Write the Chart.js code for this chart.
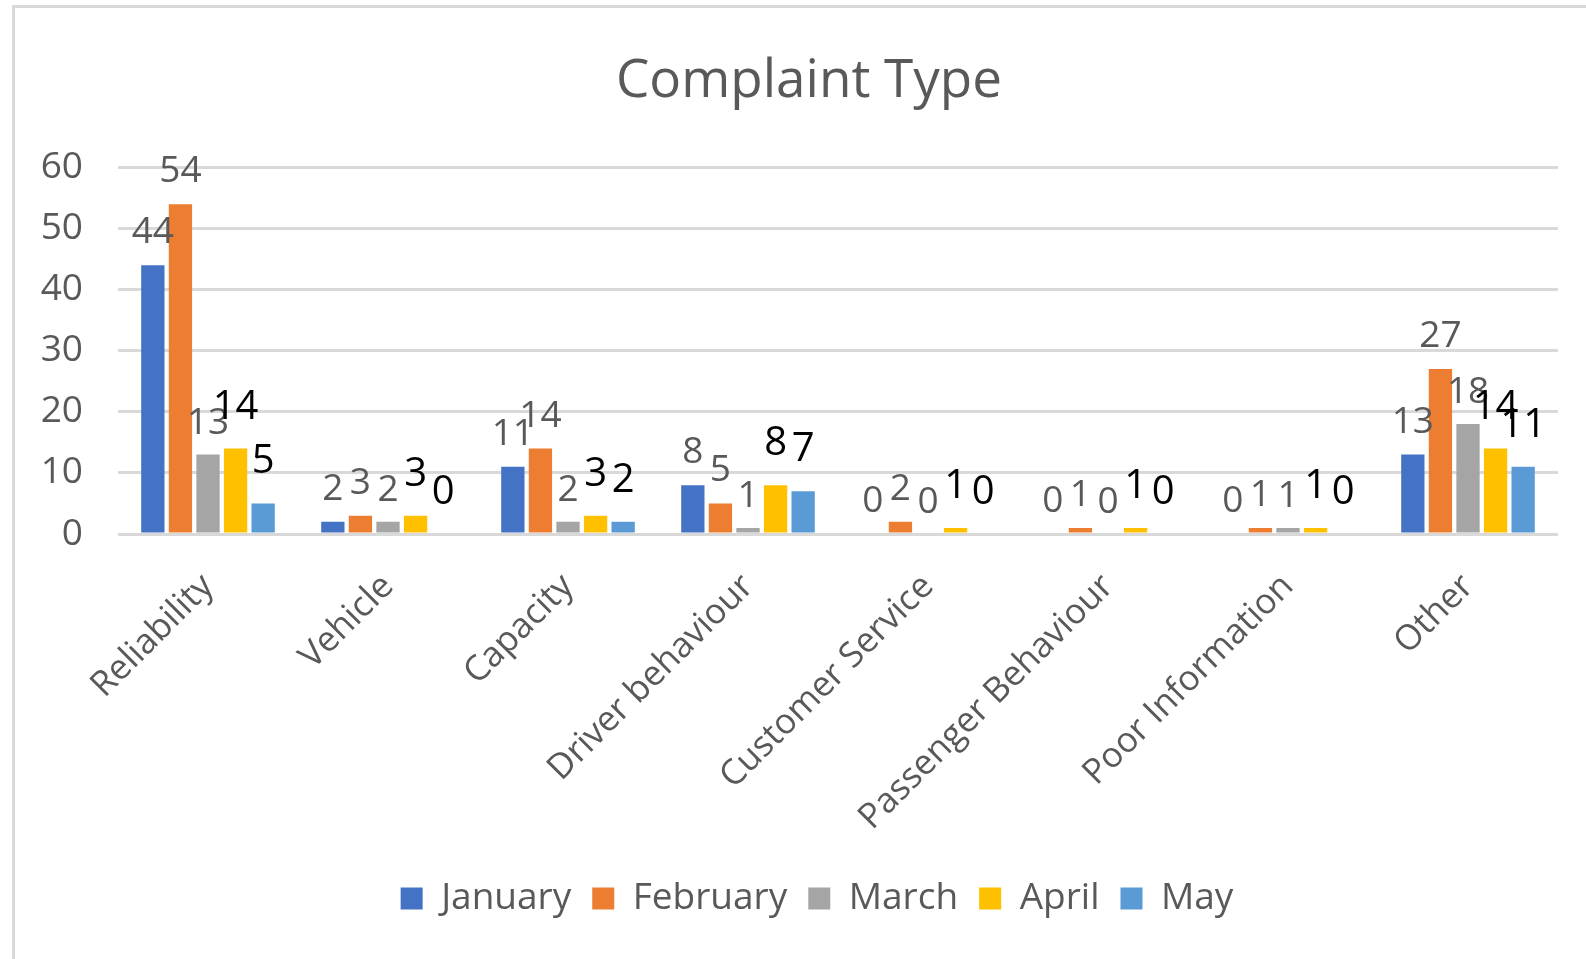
<!DOCTYPE html>
<html>
<head>
<meta charset="utf-8">
<title>Complaint Type</title>
<script src="https://cdn.jsdelivr.net/npm/chart.js@4.4.0/dist/chart.umd.min.js"></script>
<style>
  html, body { margin: 0; padding: 0; background: #fff; overflow: hidden; }
  #frame {
    position: absolute; left: 12px; top: 5px; width: 1620px; height: 1000px;
    border: 3px solid #d9d9d9; box-sizing: border-box;
  }
  #complaintChart { position: absolute; left: 0; top: 0; }
</style>
</head>
<body>
<div id="frame"></div>
<canvas id="complaintChart" width="1586" height="959"></canvas>
<script>
const categories = ['Reliability', 'Vehicle', 'Capacity', 'Driver behaviour', 'Customer Service', 'Passenger Behaviour', 'Poor Information', 'Other'];
const monthNames = ['January', 'February', 'March', 'April', 'May'];
const january = [44, 2, 11, 8, 0, 0, 0, 13];
const february = [54, 3, 14, 5, 2, 1, 1, 27];
const march = [13, 2, 2, 1, 0, 0, 1, 18];
const april = [14, 3, 3, 8, 1, 1, 1, 14];
const may = [5, 0, 2, 7, 0, 0, 0, 11];
const yTicks = [0, 10, 20, 30, 40, 50, 60];

const monthColors = ['#4472C4', '#ED7D31', '#A5A5A5', '#FFC000', '#5B9BD5'];
// value labels: first three months are small grey, last two bigger black
const labelColors = ['#595959', '#595959', '#595959', '#000000', '#000000'];
const labelSizes = [37, 37, 37, 40, 40];
const labelGaps = [22, 22, 21, 30, 30];

const FONT = '"Open Sans", "Noto Sans", sans-serif';
const GREY = '#595959';
const GRID = '#d9d9d9';

const valueLabels = {
  id: 'valueLabels',
  afterDatasetsDraw(chart) {
    const ctx = chart.ctx;
    ctx.save();
    ctx.textAlign = 'center';
    ctx.textBaseline = 'alphabetic';
    chart.data.datasets.forEach((ds, i) => {
      const meta = chart.getDatasetMeta(i);
      ctx.fillStyle = labelColors[i];
      ctx.font = `${labelSizes[i]}px ${FONT}`;
      meta.data.forEach((bar, j) => {
        ctx.fillText(String(ds.data[j]), bar.x, bar.y - labelGaps[i]);
      });
    });
    ctx.restore();
  }
};

// the original centres title and legend on a wider frame than the plot
const centreShift = {
  id: 'centreShift',
  afterLayout(chart) {
    if (chart.legend) { chart.legend.left += 38; chart.legend.right += 38; }
    if (chart.titleBlock) { chart.titleBlock.left += 60; }
  }
};

const seriesValues = [january, february, march, april, may];

new Chart(document.getElementById('complaintChart'), {
  type: 'bar',
  data: {
    labels: categories,
    datasets: monthNames.map((name, i) => ({
      label: name,
      data: seriesValues[i],
      backgroundColor: monthColors[i],
      borderWidth: 0,
      categoryPercentage: 0.766,
      barPercentage: 0.845
    }))
  },
  options: {
    responsive: false,
    devicePixelRatio: 1,
    animation: false,
    layout: { padding: { left: 0, right: 28, top: 0, bottom: 32 } },
    plugins: {
      title: {
        display: true,
        text: 'Complaint Type',
        color: GREY,
        font: { family: FONT, size: 53, weight: 'normal' },
        padding: { top: 50, bottom: 54 }
      },
      legend: {
        position: 'bottom',
        labels: {
          color: GREY,
          font: { family: FONT, size: 37 },
          boxWidth: 22,
          boxHeight: 22,
          padding: 21
        }
      },
      tooltip: { enabled: false }
    },
    scales: {
      x: {
        grid: { display: false },
        border: { display: false },
        ticks: {
          color: GREY,
          font: { family: FONT, size: 35 },
          minRotation: 45,
          maxRotation: 45,
          autoSkip: false,
          padding: 24
        },
        afterFit(scale) { scale.height = 325; }
      },
      y: {
        min: 0,
        max: 60,
        afterBuildTicks(scale) { scale.ticks = yTicks.map(v => ({ value: v })); },
        grid: { color: GRID, lineWidth: 3, drawTicks: false },
        border: { display: false },
        ticks: {
          color: GREY,
          font: { family: FONT, size: 37 },
          padding: 35
        },
        afterFit(scale) { scale.width = 118; }
      }
    }
  },
  plugins: [valueLabels, centreShift]
});
</script>
</body>
</html>
